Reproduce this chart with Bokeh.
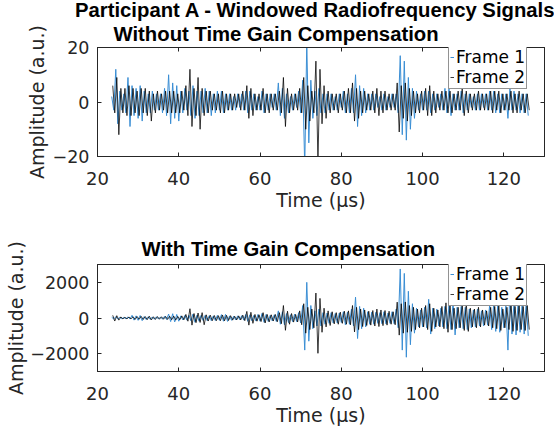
import numpy as np
from bokeh.plotting import figure
from bokeh.models import (Range1d, LinearAxis, FixedTicker, Legend, Title,
                          LegendItem, CustomJSTickFormatter)
from bokeh.layouts import column
from bokeh.embed import file_html
from bokeh.resources import INLINE

# ---------------- data ----------------
T_START_F1 = 23.5    # first read-off peak of frame 1, microseconds
T_START_F2 = 23.75   # first read-off peak of frame 2, microseconds
T_STEP = 0.5         # spacing of the read-off peaks, microseconds

top_frame1 = [
    2, -3, 12, -8, 4, -3, 3, -4, 9, -9,
    6, -5, 5, -6, 6, -7, 4, -4, 3, -4,
    4, -3, 3, -3, 3, -4, 5, -5, 10, -8,
    7, -6, 6, -7, 4, -4, 5, -3, 4, -5,
    6, -6, 4, -5, 4, -4, 5, -4, 4, -5,
    3, -4, 4, -3, 4, -4, 3, -3, 3, -3,
    2, -3, 3, -2, 3, -3, 4, -4, 4, -3,
    3, -3, 2, -3, 4, -4, 3, -3, 3, -2,
    3, -3, 7, -5, 5, -6, 3, -4, 2, -3,
    3, -2, 4, -4, 8, -24, 22, -15, 8, -6,
    4, -5, 5, -4, 3, -4, 3, -3, 3, -3,
    2, -3, 3, -2, 4, -4, 3, -4, 5, -4,
    10, -9, 6, -5, 5, -4, 3, -3, 3, -3,
    3, -2, 2, -3, 3, -3, 2, -2, 3, -2,
    3, -4, 17, -12, 15, -14, 9, -10, 5, -6,
    4, -3, 3, -3, 4, -3, 4, -4, 3, -3,
    3, -2, 3, -3, 5, -4, 5, -5, 3, -3,
    3, -3, 4, -4, 3, -3, 3, -2, 2, -3,
    3, -3, 3, -2, 3, -3, 4, -3, 4, -4,
    3, -4, 3, -3, 3, -6, 5, -3, 4, -3,
    3, -4, 3, -4, 3, -5,
]

top_frame2 = [
    6, -4, 9, -12, 5, -4, 5, -5, 6, -5,
    5, -4, 4, -5, 5, -4, 5, -5, 4, -7,
    3, -4, 4, -3, 3, -3, 4, -4, 4, -4,
    4, -4, 3, -4, 4, -3, 6, -5, 12, -9,
    5, -5, 9, -10, 5, -5, 4, -4, 4, -3,
    3, -3, 3, -4, 4, -4, 3, -3, 3, -3,
    3, -2, 3, -3, 4, -3, 6, -6, 5, -5,
    3, -3, 3, -3, 5, -4, 3, -4, 3, -3,
    3, -3, 4, -4, 9, -9, 5, -4, 3, -3,
    3, -3, 5, -4, 9, -10, 6, -7, 4, -4,
    15, -22, 12, -8, 6, -6, 4, -4, 3, -3,
    3, -4, 3, -3, 4, -4, 5, -4, 7, -7,
    5, -6, 4, -4, 4, -3, 3, -3, 4, -4,
    5, -5, 4, -4, 4, -3, 3, -3, 3, -3,
    7, -11, 6, -6, 7, -7, 5, -5, 4, -4,
    3, -4, 4, -3, 5, -5, 6, -5, 4, -4,
    3, -3, 4, -3, 4, -4, 4, -4, 3, -3,
    4, -3, 5, -5, 4, -4, 3, -3, 3, -3,
    4, -3, 3, -3, 3, -3, 4, -4, 4, -3,
    4, -4, 3, -3, 3, -3, 4, -4, 3, -4,
    4, -3, 3, -4, 3, -3,
]

tgc_frame1 = [
    40, -50, 60, -50, 40, -40, 30, -40, 60, -60,
    150, -120, 120, -130, 140, -150, 80, -90, 70, -80,
    60, -70, 70, -60, 60, -70, 100, -90, 220, -200,
    240, -220, 200, -180, 120, -110, 140, -120, 150, -160,
    220, -240, 160, -180, 150, -140, 150, -150, 130, -150,
    120, -140, 150, -130, 190, -180, 200, -190, 120, -130,
    100, -110, 120, -100, 130, -120, 200, -190, 180, -160,
    150, -170, 200, -180, 260, -240, 200, -190, 150, -160,
    180, -190, 400, -350, 350, -380, 250, -260, 180, -200,
    220, -200, 300, -280, 700, -1800, 2000, -1300, 700, -600,
    400, -450, 500, -450, 300, -350, 280, -300, 300, -280,
    250, -280, 280, -250, 350, -380, 320, -350, 500, -450,
    1170, -1150, 650, -600, 550, -500, 350, -350, 330, -350,
    320, -300, 300, -320, 350, -330, 280, -300, 350, -320,
    500, -550, 2750, -1800, 2500, -2200, 1500, -1500, 800, -850,
    550, -500, 450, -500, 600, -550, 1050, -900, 550, -600,
    500, -450, 550, -500, 650, -600, 700, -650, 900, -950,
    600, -550, 650, -600, 600, -650, 500, -550, 450, -500,
    500, -450, 400, -450, 450, -400, 700, -650, 800, -750,
    700, -800, 600, -550, 700, -1800, 1700, -900, 900, -950,
    850, -800, 800, -900, 900, -1000,
]

tgc_frame2 = [
    150, -170, 130, -120, 60, -50, 40, -50, 60, -50,
    70, -80, 80, -70, 90, -80, 80, -90, 100, -110,
    70, -80, 80, -70, 70, -70, 90, -80, 100, -100,
    110, -120, 90, -100, 120, -100, 200, -180, 520, -400,
    250, -260, 280, -250, 300, -380, 180, -170, 160, -150,
    140, -150, 130, -150, 170, -160, 150, -140, 130, -120,
    100, -110, 120, -110, 160, -150, 370, -400, 320, -300,
    200, -180, 180, -200, 300, -280, 200, -220, 180, -170,
    200, -210, 300, -320, 700, -690, 380, -350, 250, -230,
    200, -220, 400, -380, 800, -850, 600, -650, 500, -550,
    1400, -1980, 1100, -800, 550, -500, 400, -420, 350, -330,
    300, -350, 330, -300, 380, -350, 400, -380, 700, -780,
    600, -650, 500, -480, 450, -420, 380, -400, 420, -450,
    500, -480, 450, -430, 420, -400, 380, -350, 350, -380,
    890, -960, 800, -850, 900, -800, 700, -750, 600, -650,
    500, -550, 550, -500, 700, -650, 800, -750, 550, -500,
    450, -500, 650, -600, 850, -800, 700, -650, 550, -600,
    600, -550, 750, -700, 800, -750, 550, -500, 500, -550,
    600, -500, 450, -400, 400, -450, 600, -550, 650, -600,
    700, -700, 500, -550, 600, -650, 800, -750, 650, -700,
    700, -650, 650, -700, 700, -650,
]

x_ticks = [20, 40, 60, 80, 100, 120]
top_y_ticks = [-20, 0, 20]
tgc_y_ticks = [-2000, 0, 2000]
X_LIM = (20, 130)
TOP_Y_LIM = (-20, 20)
TGC_Y_LIM = (-3000, 3000)

main_title = "Participant A - Windowed Radiofrequency Signals"
top_title = "Without Time Gain Compensation"
tgc_title = "With Time Gain Compensation"
x_label = "Time (\u03bcs)"
y_label = "Amplitude (a.u.)"
legend_labels = ["Frame 1", "Frame 2"]

# ---------------- styling ----------------
AX = "#262626"
BLUE = "#3a8ed4"
FONT = "DejaVu Sans"
TFONT = "Liberation Sans"
FIG_W = 554
B_LEFT, B_RIGHT = 97, 10

minus_fmt = CustomJSTickFormatter(
    code="return tick < 0 ? '\u2212' + String(Math.abs(tick)) : String(tick);")
blank_fmt = CustomJSTickFormatter(code="return '';")


def style_axis(ax, ticks, standoff, size="18px", show_labels=True):
    ax.ticker = FixedTicker(ticks=ticks)
    ax.major_tick_in = 4
    ax.major_tick_out = 0
    ax.minor_tick_line_color = None
    ax.axis_line_color = AX
    ax.major_tick_line_color = AX
    if show_labels:
        ax.formatter = minus_fmt
        ax.major_label_text_font = FONT
        ax.major_label_text_font_size = size
        ax.major_label_text_color = AX
        ax.major_label_standoff = standoff
    else:
        ax.formatter = blank_fmt
        ax.major_label_text_font_size = "0px"
        ax.major_label_standoff = 0


def add_label(ax, text, size, standoff):
    ax.axis_label = text
    ax.axis_label_text_font = FONT
    ax.axis_label_text_font_size = size
    ax.axis_label_text_font_style = "normal"
    ax.axis_label_text_color = AX
    ax.axis_label_standoff = standoff


def build(y1, y2, ylim, yticks, height, b_top, b_bottom, titles,
          ylab_standoff, legend_loc):
    p = figure(width=FIG_W, height=height, x_range=Range1d(*X_LIM),
               y_range=Range1d(*ylim), output_backend="svg",
               toolbar_location=None, min_border_left=B_LEFT,
               min_border_right=B_RIGHT, min_border_top=b_top,
               min_border_bottom=b_bottom)
    p.title.visible = False
    p.xgrid.visible = False
    p.ygrid.visible = False
    p.outline_line_color = AX
    p.outline_line_width = 1
    p.background_fill_color = "white"
    p.border_fill_color = "white"

    t1 = T_START_F1 + T_STEP * np.arange(len(y1))
    t2 = T_START_F2 + T_STEP * np.arange(len(y2))
    r1 = p.line(t1, y1, line_color=BLUE, line_width=1)
    r2 = p.line(t2, y2, line_color="black", line_width=0.9, line_alpha=0.85)

    style_axis(p.xaxis[0], x_ticks, 15)
    style_axis(p.yaxis[0], yticks, 8, size="17.5px")
    add_label(p.xaxis[0], x_label, "19px", 1)
    add_label(p.yaxis[0], y_label, "19px", ylab_standoff)

    top_ax = LinearAxis()
    style_axis(top_ax, x_ticks, 0, show_labels=False)
    p.add_layout(top_ax, "above")
    right_ax = LinearAxis()
    style_axis(right_ax, yticks, 0, show_labels=False)
    p.add_layout(right_ax, "right")

    # titles: first one added sits nearest to the axes box
    for text, left_offset, standoff, valign in titles:
        p.add_layout(Title(text=text, align="left", offset=left_offset,
                           standoff=standoff, vertical_align=valign,
                           text_font=TFONT, text_font_size="20.3px",
                           text_font_style="bold", text_color="black"),
                     "above")

    legend = Legend(items=[LegendItem(label=legend_labels[0], renderers=[r1]),
                           LegendItem(label=legend_labels[1], renderers=[r2])],
                    location=legend_loc, orientation="vertical", padding=1,
                    spacing=0, margin=0, glyph_width=4, glyph_height=20,
                    label_height=20, label_standoff=2, label_text_font=FONT,
                    label_text_font_size="17px", label_text_color="black",
                    border_line_color=AX, border_line_width=1,
                    background_fill_color="white", background_fill_alpha=1)
    p.add_layout(legend)
    return p


top = build(top_frame1, top_frame2, TOP_Y_LIM, top_y_ticks, 218, 47, 62,
            [(top_title, 16, 5, "bottom"), (main_title, -22.5, -6, "middle")],
            2, (351, 67))
bottom = build(tgc_frame1, tgc_frame2, TGC_Y_LIM, tgc_y_ticks, 212, 46, 59,
               [(tgc_title, 44, 9, "bottom")],
               0, (351, 65))

layout = column(top, bottom, spacing=0)
open("out.html", "w").write(file_html(layout, INLINE))
